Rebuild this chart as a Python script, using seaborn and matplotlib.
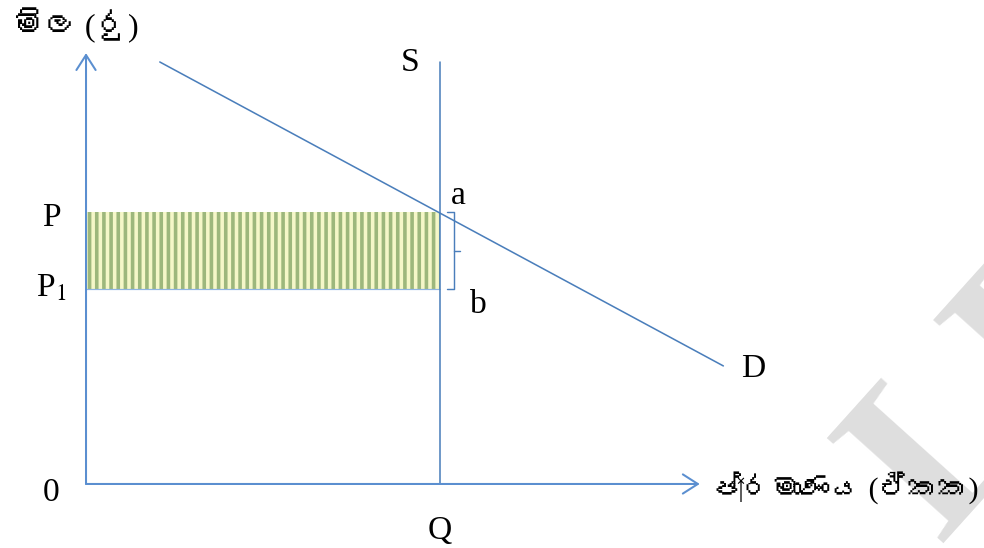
import numpy as np
import pandas as pd
import matplotlib.pyplot as plt
import seaborn as sns
from matplotlib import font_manager
from matplotlib.ft2font import FT2Font

# tema semplice, senza griglia
sns.set_theme(style="white")

# cerca un font installato che abbia i glifi singalesi
sinhala_family = None
for fe in font_manager.fontManager.ttflist:
    try:
        if FT2Font(fe.fname).get_char_index(0x0DB8):
            sinhala_family = fe.name
            break
    except Exception:
        pass

families = ['Liberation Serif', 'DejaVu Serif']
if sinhala_family:
    families.append(sinhala_family)
plt.rcParams['font.family'] = families
plt.rcParams['mathtext.fontset'] = 'stix'
plt.rcParams['hatch.color'] = '#9db77c'
plt.rcParams['hatch.linewidth'] = 3.0

# valori del diagramma (unità arbitrarie)
quantity_Q = 6.0
price_P = 4.6
price_P1 = 3.3
demand_q = [1.25, 10.8]
demand_p = [7.15, 2.0]
supply_q = [quantity_Q, quantity_Q]
supply_p = [0.0, 7.15]
axis_x_end = 10.4
axis_y_end = 7.3

y_label = 'මිල (රු)'
x_label = 'ප්‍රමාණය (ඒකක)'
watermark = 'LL'

BLUE = '#4a7ebb'
AXIS_BLUE = '#5b8fd0'
FS = 28

DPI = 86.4
fig = plt.figure(figsize=(984.2 / DPI, 548.2 / DPI), dpi=DPI)
ax = fig.add_axes([0, 0, 1, 1])
ax.set_xlim(-86 / 59, 898 / 59)
ax.set_ylim(-64 / 59, 484 / 59)
ax.axis('off')

# filigrana grigia
ax.text(940 / 984, 1 - 543 / 548, watermark, transform=fig.transFigure,
        rotation=48, rotation_mode='anchor', ha='left', va='baseline',
        fontsize=200, fontweight='bold', color='#dedede', zorder=0)

# rettangolo tra P e P1
ax.bar(0, price_P - price_P1, bottom=price_P1, width=quantity_Q, align='edge',
       color='#f5f7c8', edgecolor='#9db77c', hatch='||', linewidth=0, zorder=1)
ax.hlines(price_P1, 0, quantity_Q, color='#8fb4e3', lw=1.0, zorder=2)

# domanda e offerta
sns.lineplot(x=demand_q, y=demand_p, color=BLUE, linewidth=1.3, ax=ax, zorder=3)
ax.plot(supply_q, supply_p, color=BLUE, linewidth=1.3, zorder=3)

# assi con frecce
arrow = dict(arrowstyle='->,head_length=1.25,head_width=0.8', color=AXIS_BLUE,
             lw=1.7, shrinkA=0, shrinkB=0, mutation_scale=10)
ax.annotate('', xy=(0, axis_y_end), xytext=(0, 0), arrowprops=arrow, zorder=4)
ax.annotate('', xy=(axis_x_end, 0), xytext=(0, 0), arrowprops=arrow, zorder=4)

# parentesi tra a e b
mid = (price_P + price_P1) / 2
ax.plot([quantity_Q + 0.12, quantity_Q + 0.23, quantity_Q + 0.23, quantity_Q + 0.12],
        [price_P, price_P, price_P1, price_P1], color=BLUE, lw=1.2, zorder=3)
ax.plot([quantity_Q + 0.23, quantity_Q + 0.34], [mid, mid], color=BLUE, lw=1.2, zorder=3)

# etichette
def label(txt, xy, off, ha='center', **kw):
    return ax.annotate(txt, xy=xy, xytext=off, textcoords='offset points',
                       ha=ha, va='baseline', fontsize=kw.pop('fontsize', FS),
                       color='black', **kw)

label('P', (0, price_P), (-29, -10.8))
label(r'P$_1$', (0, price_P1), (-41.5, -6), ha='left')
label('0', (0, 0), (-29, -14))
label('Q', (quantity_Q, 0), (0, -46))
label('S', (quantity_Q, supply_p[1]), (-25, -7.5))
label('a', (quantity_Q, price_P), (15.5, 7.5))
label('b', (quantity_Q, price_P1), (32, -20))
label('D', (demand_q[1], demand_p[1]), (15, -9), ha='left')
label(x_label, (axis_x_end, 0), (9, -11.5), ha='left', fontsize=25)
label(y_label, (0, axis_y_end), (-62, 14), ha='left', fontsize=27)

fig.savefig('out.png', dpi=DPI, facecolor='white')
